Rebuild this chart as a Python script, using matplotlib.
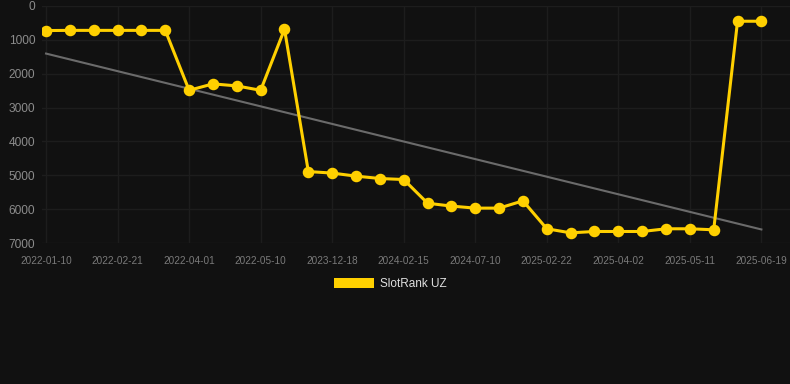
import numpy as np
from matplotlib import pyplot as plt
from matplotlib.patches import Patch

# tick dates shown on the x axis (every third point)
tick_labels = [
    "2022-01-10", "2022-02-21", "2022-04-01", "2022-05-10", "2023-12-18",
    "2024-02-15", "2024-07-10", "2025-02-22", "2025-04-02", "2025-05-11",
    "2025-06-19",
]

# rank values, one per weekly point
rank = [
    725, 720, 720, 720, 720, 720, 2490, 2300, 2360, 2490,
    685, 4890, 4935, 5025, 5095, 5125, 5825, 5910, 5970, 5970,
    5755, 6580, 6700, 6660, 6660, 6660, 6580, 6580, 6610, 450,
    450,
]

# trend line end values
trend_start = 1405
trend_end = 6600

BG = "#111111"
GOLD = "#FFD000"
GRID = "#1d1d1d"

plt.rcParams.update(
    {
        "font.family": ["Liberation Sans", "DejaVu Sans"],
        "figure.facecolor": BG,
        "axes.facecolor": BG,
    }
)

fig = plt.figure(figsize=(7.9, 3.84), dpi=100)
ax = fig.add_axes([42 / 790, 1 - 243 / 384, 1 - 42 / 790, (243 - 6) / 384])

x = np.arange(len(rank))
ax.plot(
    [x[0], x[-1]], [trend_start, trend_end],
    color="#6b6b6b", linewidth=1.5, zorder=2,
)
ax.plot(
    x, rank, color=GOLD, linewidth=2.2, marker="o", markersize=7.3,
    zorder=3, solid_joinstyle="round",
)

ax.set_ylim(7000, 0)
ax.set_xlim(-0.17, 31.2)
ax.set_yticks(range(0, 8000, 1000))
ax.set_xticks(x[::3])
ax.set_xticklabels(tick_labels)

ax.grid(True, color=GRID, linewidth=1)
ax.set_axisbelow(True)
for s in ax.spines.values():
    s.set_visible(False)
ax.tick_params(axis="both", length=0)
ax.tick_params(axis="y", labelsize=8.6, pad=5, colors="#8c8c8c")
ax.tick_params(axis="x", labelsize=7.2, pad=9, colors="#7a7a7a")

fig.legend(
    handles=[Patch(facecolor=GOLD, edgecolor="none", label="SlotRank UZ")],
    loc="center", bbox_to_anchor=(390 / 790, 1 - 284 / 384),
    frameon=False, fontsize=8.5, labelcolor="#e0e0e0",
    handlelength=3.4, handleheight=1.0, handletextpad=0.5,
)

fig.savefig("out.png", dpi=100, facecolor=BG)
